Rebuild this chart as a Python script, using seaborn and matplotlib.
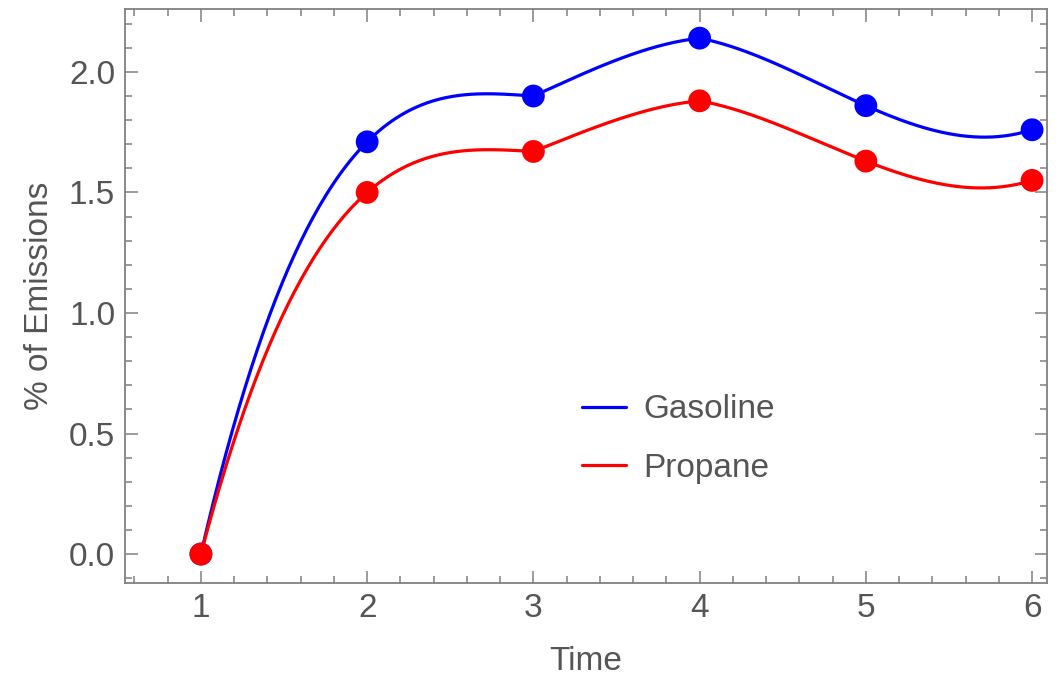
import numpy as np
import pandas as pd
import matplotlib
matplotlib.use("Agg")
import matplotlib.pyplot as plt
import seaborn as sns
from matplotlib.ticker import MultipleLocator

time = [1, 2, 3, 4, 5, 6]
gasoline = [0.0, 1.71, 1.90, 2.14, 1.86, 1.76]
propane = [0.0, 1.50, 1.67, 1.88, 1.63, 1.55]
series_names = ["Gasoline", "Propane"]
colors = {"Gasoline": "#0000ff", "Propane": "#ff0000"}


def order3_interp(x, y, per_seg=80):
    """Piecewise cubic through 4 neighbouring points (Mathematica-style
    InterpolationOrder -> 3)."""
    x = np.asarray(x, float)
    y = np.asarray(y, float)
    k = len(x)
    xs_all, ys_all = [], []
    for i in range(k - 1):
        s = min(max(i - 1, 0), k - 4)
        nx = x[s:s + 4]
        ny = y[s:s + 4]
        xs = np.linspace(x[i], x[i + 1], per_seg, endpoint=(i == k - 2))
        ys = np.zeros_like(xs)
        for j in range(4):
            L = np.ones_like(xs)
            for m in range(4):
                if m != j:
                    L *= (xs - nx[m]) / (nx[j] - nx[m])
            ys += ny[j] * L
        xs_all.append(xs)
        ys_all.append(ys)
    return np.concatenate(xs_all), np.concatenate(ys_all)


pts = pd.DataFrame({
    "Time": time * 2,
    "value": gasoline + propane,
    "Fuel": [series_names[0]] * len(time) + [series_names[1]] * len(time),
})
curves = []
for name, vals in zip(series_names, [gasoline, propane]):
    xs, ys = order3_interp(time, vals)
    curves.append(pd.DataFrame({"Time": xs, "value": ys, "Fuel": name}))
curve_df = pd.concat(curves, ignore_index=True)

sns.set_style("ticks")
plt.rcParams["font.family"] = ["Liberation Sans", "DejaVu Sans"]
text_color = "#555555"
spine_color = "#808080"
fs = 24

fig = plt.figure(figsize=(10.59, 6.76), dpi=100)
ax = fig.add_axes([0.118, 0.1376, 0.8707, 0.8491])

for name in series_names:
    sub = curve_df[curve_df["Fuel"] == name]
    sns.lineplot(data=sub, x="Time", y="value", color=colors[name], lw=2.3,
                 sort=False, estimator=None, ax=ax, label=name, zorder=2)
for name in series_names:
    sub = pts[pts["Fuel"] == name]
    sns.scatterplot(data=sub, x="Time", y="value", color=colors[name], s=270,
                    edgecolor="none", ax=ax, legend=False, zorder=3)

ax.set_xlim(0.543, 6.09)
ax.set_ylim(-0.12, 2.261)
ax.xaxis.set_major_locator(MultipleLocator(1))
ax.xaxis.set_minor_locator(MultipleLocator(0.2))
ax.yaxis.set_major_locator(MultipleLocator(0.5))
ax.yaxis.set_minor_locator(MultipleLocator(0.1))
ax.yaxis.set_major_formatter(matplotlib.ticker.FormatStrFormatter("%.1f"))

for sp in ax.spines.values():
    sp.set_visible(True)
    sp.set_color(spine_color)
    sp.set_linewidth(1.3)

ax.tick_params(which="both", direction="in", top=True, right=True,
               color=spine_color, labelcolor=text_color, labelsize=fs, width=1.1)
ax.tick_params(which="major", length=9, pad=7)
ax.tick_params(which="minor", length=5)

ax.set_xlabel("Time", fontsize=fs, color=text_color, labelpad=16)
ax.set_ylabel("% of Emissions", fontsize=fs, color=text_color, labelpad=10)

leg = ax.legend(loc="center left", bbox_to_anchor=(0.496, 0.251), frameon=False,
                fontsize=fs, handlelength=1.32, handletextpad=0.5,
                labelspacing=0.82, borderpad=0, borderaxespad=0,
                labelcolor=text_color)

fig.savefig("out.png", dpi=100)
